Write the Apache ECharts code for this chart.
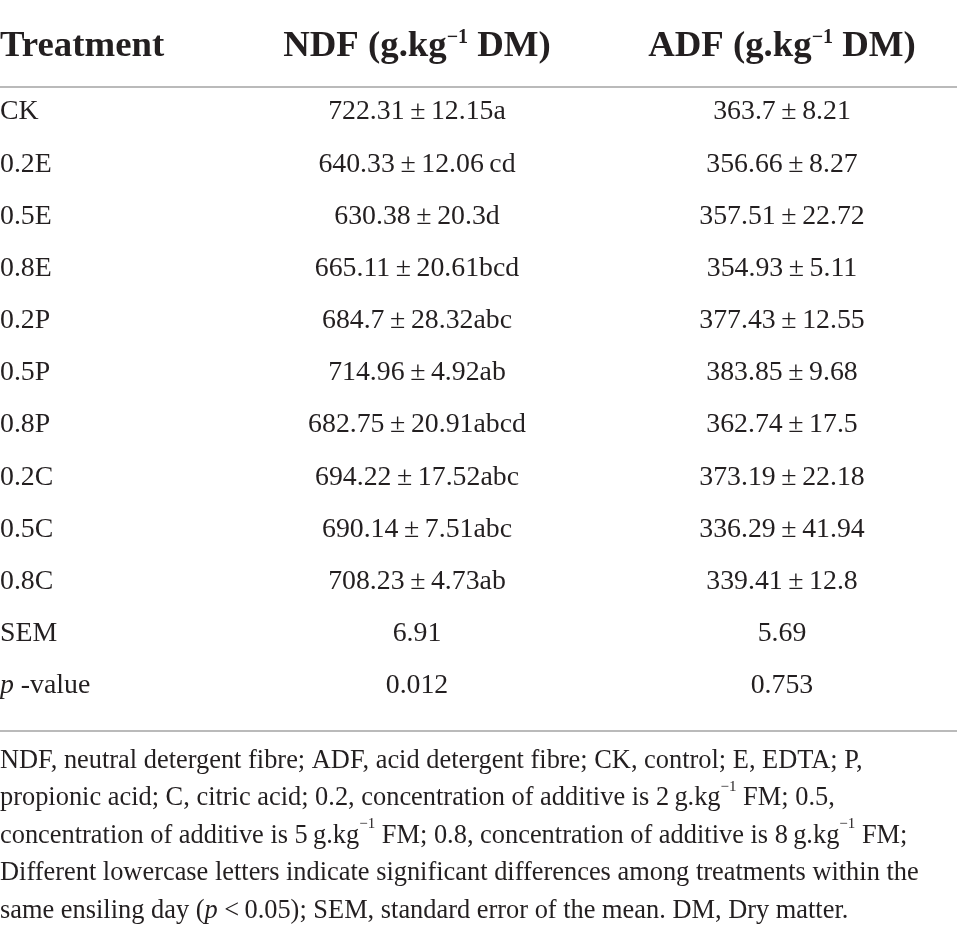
<!DOCTYPE html>
<html>
<head>
<meta charset="utf-8">
<script src="https://cdn.jsdelivr.net/npm/echarts@6/dist/echarts.min.js"></script>
<style>html,body{margin:0;padding:0;background:#fff;}#c{width:957px;height:937px;}</style>
</head>
<body>
<div id="c"></div>
<script>
const columnKeys = ['Treatment', 'NDF', 'ADF'];
const columnHeaders = ['Treatment', 'NDF (g.kg{sup|\u22121} DM)', 'ADF (g.kg{sup|\u22121} DM)'];
const treatments = ['CK', '0.2E', '0.5E', '0.8E', '0.2P', '0.5P', '0.8P', '0.2C', '0.5C', '0.8C', 'SEM', 'p -value'];
const ndfMean = [722.31, 640.33, 630.38, 665.11, 684.7, 714.96, 682.75, 694.22, 690.14, 708.23];
const ndfSD = [12.15, 12.06, 20.3, 20.61, 28.32, 4.92, 20.91, 17.52, 7.51, 4.73];
const ndfLetters = ['a', '\u2009cd', 'd', 'bcd', 'abc', 'ab', 'abcd', 'abc', 'abc', 'ab'];
const adfMean = [363.7, 356.66, 357.51, 354.93, 377.43, 383.85, 362.74, 373.19, 336.29, 339.41];
const adfSD = [8.21, 8.27, 22.72, 5.11, 12.55, 9.68, 17.5, 22.18, 41.94, 12.8];
const semValues = ['6.91', '5.69'];
const pValues = ['0.012', '0.753'];
const footnoteLines = [
  'NDF, neutral detergent fibre; ADF, acid detergent fibre; CK, control; E, EDTA; P,',
  'propionic acid; C, citric acid; 0.2, concentration of additive is 2\u2009g.kg{sup|\u22121} FM; 0.5,',
  'concentration of additive is 5\u2009g.kg{sup|\u22121} FM; 0.8, concentration of additive is 8\u2009g.kg{sup|\u22121} FM;',
  'Different lowercase letters indicate significant differences among treatments within the',
  'same ensiling day ({it|p} <\u20090.05); SEM, standard error of the mean. DM, Dry matter.'
];

const FONT = '"Liberation Serif", "DejaVu Serif", serif';
const INK = '#231f20';
const RULE = '#a3a3a3';

function cellText(col, row) {
  if (col === 0) {
    return row === treatments.length - 1 ? '{it|p} -value' : treatments[row];
  }
  if (row < ndfMean.length) {
    if (col === 1) return ndfMean[row] + '\u2009\u00b1\u2009' + ndfSD[row] + ndfLetters[row];
    return adfMean[row] + '\u2009\u00b1\u2009' + adfSD[row];
  }
  if (treatments[row] === 'SEM') return semValues[col - 1];
  return pValues[col - 1];
}

const headerData = columnKeys.map((k, c) => [c, 0]);
const bodyFirstCol = [], bodyOtherCols = [];
treatments.forEach((t, r) => {
  columnKeys.forEach((k, c) => {
    (c === 0 ? bodyFirstCol : bodyOtherCols).push([c, r]);
  });
});

const xCfg = { type: 'value', min: -0.1425, max: 2.4795, show: true,
  axisLine: { show: true, onZero: false, lineStyle: { color: RULE, width: 1.5 } },
  axisTick: { show: false }, axisLabel: { show: false }, splitLine: { show: false } };

const BODY_FS = 27.8;
const chart = echarts.init(document.getElementById('c'), null, { renderer: 'canvas' });
chart.setOption({
  backgroundColor: '#ffffff',
  animation: false,
  title: {
    left: 0, top: 742, padding: 0,
    text: footnoteLines.join('\n'),
    textStyle: {
      fontFamily: FONT, fontSize: 26.4, fontWeight: 'normal', color: INK, lineHeight: 37.5,
      rich: {
        sup: { fontFamily: FONT, fontSize: 15, color: INK, verticalAlign: 'top', lineHeight: 37.5, padding: [0, 0, 4, 0] },
        it: { fontFamily: FONT, fontSize: 26.4, fontStyle: 'italic', color: INK, lineHeight: 37.5 }
      }
    }
  },
  grid: [
    { left: 0, right: 0, top: 0, height: 87 },
    { left: 0, right: 0, top: 87, height: 643.7 }
  ],
  xAxis: [
    Object.assign({ gridIndex: 0, position: 'bottom' }, xCfg),
    Object.assign({ gridIndex: 1, position: 'bottom' }, xCfg)
  ],
  yAxis: [
    { gridIndex: 0, type: 'value', min: -0.53, max: 0.47, inverse: true, show: false },
    { gridIndex: 1, type: 'value', min: -0.48, max: 11.856, inverse: true, show: false }
  ],
  series: [
    {
      type: 'scatter', xAxisIndex: 0, yAxisIndex: 0, symbolSize: 0, silent: true,
      itemStyle: { opacity: 1 },
      data: headerData,
      label: {
        show: true, position: 'inside', color: INK,
        fontFamily: FONT, fontSize: 36.8, fontWeight: 'bold',
        align: 'center',
        formatter: p => columnHeaders[p.data[0]],
        rich: {
          sup: { fontFamily: FONT, fontSize: 20, fontWeight: 'bold', color: INK, verticalAlign: 'top', padding: [0, 0, 8, 0] }
        }
      },
      labelLayout: p => p.dataIndex === 0 ? { dx: -52 + p.labelRect.width / 2 } : {}
    },
    {
      type: 'scatter', xAxisIndex: 1, yAxisIndex: 1, symbolSize: 0, silent: true,
      itemStyle: { opacity: 1 },
      data: bodyFirstCol,
      label: {
        show: true, position: 'inside', color: INK,
        fontFamily: FONT, fontSize: BODY_FS, align: 'left', offset: [-52, 0],
        formatter: p => cellText(p.data[0], p.data[1]),
        rich: { it: { fontFamily: FONT, fontSize: BODY_FS, fontStyle: 'italic', color: INK } }
      }
    },
    {
      type: 'scatter', xAxisIndex: 1, yAxisIndex: 1, symbolSize: 0, silent: true,
      itemStyle: { opacity: 1 },
      data: bodyOtherCols,
      label: {
        show: true, position: 'inside', color: INK,
        fontFamily: FONT, fontSize: BODY_FS, align: 'center',
        formatter: p => cellText(p.data[0], p.data[1])
      }
    }
  ]
});
</script>
</body>
</html>
